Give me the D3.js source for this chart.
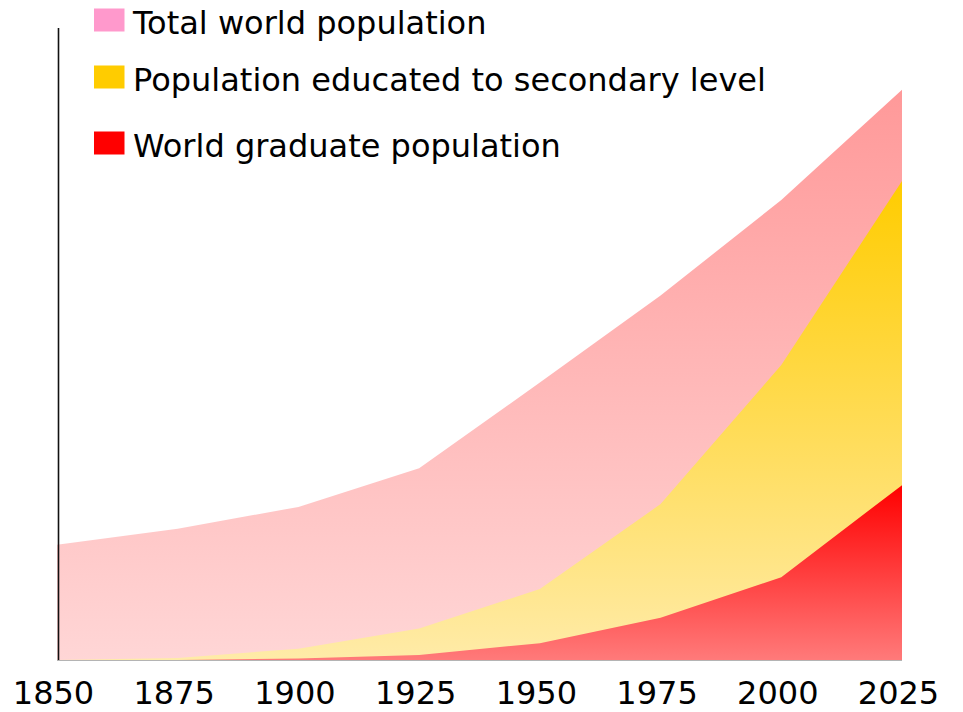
<!DOCTYPE html>
<html>
<head>
<meta charset="utf-8">
<script src="https://cdn.jsdelivr.net/npm/d3@7"></script>
<style>
  html, body { margin: 0; padding: 0; background: #ffffff; }
  svg { display: block; font-family: Verdana, "DejaVu Sans", sans-serif; }
</style>
</head>
<body>
<svg id="chart" width="963" height="712"></svg>
<script>
// Years along the horizontal axis
const years = [1850, 1875, 1900, 1925, 1950, 1975, 2000, 2025];
// Population in billions
const totalPopulation = [1.64, 1.87, 2.18, 2.73, 3.95, 5.19, 6.55, 8.12];
const secondaryEducated = [0.0, 0.03, 0.16, 0.45, 1.01, 2.22, 4.20, 6.82];
const graduates = [0.0, 0.0, 0.02, 0.07, 0.24, 0.60, 1.18, 2.49];

const seriesNames = ["Total world population", "Population educated to secondary level", "World graduate population"];
const legendColors = ["#ff99cc", "#ffcc00", "#ff0000"];
const gradientStops = [["#ff9999", "#ffd6d6"], ["#ffcc00", "#ffeba8"], ["#ff0000", "#ff7a7a"]];
const seriesValues = [totalPopulation, secondaryEducated, graduates];

const svg = d3.select("#chart");
const x = d3.scaleLinear().domain([1850, 2025]).range([57, 902]);
const y = d3.scaleLinear().domain([0, 9]).range([660, 28]);

const defs = svg.append("defs");
seriesValues.forEach((vals, i) => {
  const g = defs.append("linearGradient")
    .attr("id", "grad" + i)
    .attr("gradientUnits", "userSpaceOnUse")
    .attr("x1", 0).attr("x2", 0)
    .attr("y1", y(d3.max(vals))).attr("y2", y(0));
  g.append("stop").attr("offset", "0%").attr("stop-color", gradientStops[i][0]);
  g.append("stop").attr("offset", "100%").attr("stop-color", gradientStops[i][1]);
});

// Baseline under the areas
svg.append("line")
  .attr("x1", x(1850)).attr("x2", x(2025))
  .attr("y1", y(0) + 0.5).attr("y2", y(0) + 0.5)
  .attr("stroke", "#b4b4b4").attr("stroke-width", 1.2);
svg.append("line")
  .attr("x1", x(1850)).attr("x2", x(1925))
  .attr("y1", y(0) - 0.8).attr("y2", y(0) - 0.8)
  .attr("stroke", "#222").attr("stroke-width", 1.2);

const area = d3.area()
  .x((d, i) => x(years[i]))
  .y0(y(0))
  .y1(d => y(d));

seriesValues.forEach((vals, i) => {
  svg.append("path")
    .datum(vals)
    .attr("d", area)
    .attr("fill", "url(#grad" + i + ")");
});

// Vertical axis line
svg.append("line")
  .attr("x1", 58.5).attr("x2", 58.5)
  .attr("y1", 28).attr("y2", y(0))
  .attr("stroke", "#111").attr("stroke-width", 1.6);

// Year labels
const xAxis = d3.axisBottom(x).tickValues(years).tickFormat(d3.format("d")).tickSize(0).tickPadding(0);
const xg = svg.append("g").attr("transform", "translate(-4,681.5)").call(xAxis);
xg.select(".domain").remove();
xg.selectAll("text")
  .attr("font-family", "Verdana, 'DejaVu Sans', sans-serif")
  .attr("font-size", 32)
  .attr("fill", "#000")
  .attr("dy", "0.71em");

// Legend
const legendY = [20, 77, 143];
const legend = svg.append("g");
seriesNames.forEach((name, i) => {
  legend.append("rect")
    .attr("x", 94).attr("y", legendY[i] - 11.5)
    .attr("width", 30.5).attr("height", 23)
    .attr("fill", legendColors[i]);
  legend.append("text")
    .attr("x", 133).attr("y", legendY[i] + 14)
    .attr("font-size", 32)
    .attr("fill", "#000")
    .text(name);
});
</script>
</body>
</html>
